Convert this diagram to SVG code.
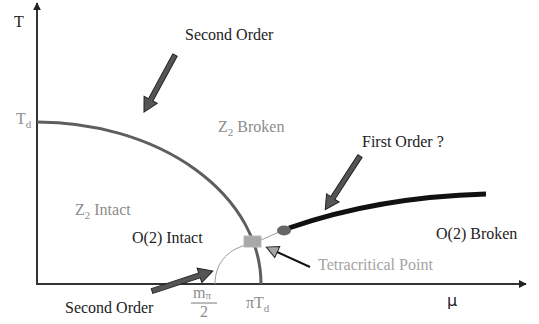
<svg xmlns="http://www.w3.org/2000/svg" width="539" height="324" viewBox="0 0 539 324">
  <defs>
    <marker id="axhead" viewBox="0 0 10 10" refX="9" refY="5" markerWidth="4" markerHeight="4" orient="auto" markerUnits="strokeWidth">
      <path d="M0,0 L10,5 L0,10 Z" fill="#222"/>
    </marker>
  </defs>
  <style>
    text { font-family: 'Liberation Serif', 'DejaVu Serif', serif; font-size: 16px; fill: #222; }
    .grey { fill: #8c8c8c; }
    .light { fill: #a3a3a3; }
    .mu { font-family: 'DejaVu Sans', sans-serif; }
    .axis { stroke: #333; stroke-width: 2; fill: none; }
    .block { fill: #555; stroke: #222; stroke-width: 1; stroke-linejoin: miter; }
    .sub { font-size: 11px; }
  </style>
  <rect width="539" height="324" fill="#fff"/>

  <g id="axes">
    <line class="axis" x1="37" y1="284" x2="37" y2="3" marker-end="url(#axhead)"/>
    <line class="axis" x1="36" y1="284" x2="526" y2="284" marker-end="url(#axhead)"/>
    <text x="14" y="27" font-size="17">T</text>
    <text class="mu" x="447" y="306">μ</text>
    <text class="grey" x="16" y="124">T<tspan class="sub" dy="4">d</tspan></text>
    <text class="grey" x="246" y="308">πT<tspan class="sub" dy="4">d</tspan></text>
    <g id="fraction">
      <text class="grey" x="193" y="298">m<tspan class="sub" dy="1">π</tspan></text>
      <line x1="191" y1="303" x2="217" y2="303" stroke="#777" stroke-width="1"/>
      <text class="grey" x="200" y="317">2</text>
    </g>
  </g>

  <g id="connectors">
    <path d="M37,122 A224,162 0 0 1 261,284" fill="none" stroke="#5e5e5e" stroke-width="3"/>
    <path d="M215,284 C215,264 227,250 246,245" fill="none" stroke="#9a9a9a" stroke-width="1"/>
    <line x1="261" y1="240" x2="279" y2="232" stroke="#9a9a9a" stroke-width="1"/>
    <path d="M289,228 Q378,197 486,194" fill="none" stroke="#111" stroke-width="5"/>
    <polygon class="block" transform="translate(175,55) rotate(118.5)" points="0,-2.5 51,-2.5 51,-7.5 65,0 51,7.5 51,2.5 0,2.5"/>
    <polygon class="block" transform="translate(360,156) rotate(122.9)" points="0,-2.5 50,-2.5 50,-7.5 64,0 50,7.5 50,2.5 0,2.5"/>
    <polygon class="block" transform="translate(152,291) rotate(-18.2)" points="0,-2.5 50,-2.5 50,-7.5 64,0 50,7.5 50,2.5 0,2.5"/>
    <g transform="translate(310,267) rotate(-155.5)">
      <line x1="0" y1="0" x2="38" y2="0" stroke="#111" stroke-width="2"/>
      <polygon points="36,-6 48,0 36,6" fill="#a8a8a8" stroke="#222" stroke-width="1"/>
    </g>
  </g>

  <g id="tetracritical-point">
    <rect x="244" y="236" width="17" height="11" fill="#a8a8a8" stroke="#b8b8b8" stroke-width="1"/>
  </g>
  <g id="endpoint">
    <ellipse cx="284" cy="230.5" rx="7" ry="5" fill="#666"/>
  </g>

  <g id="label-second-order-top"><text x="185" y="40">Second Order</text></g>
  <g id="label-z2-broken"><text class="grey" x="218" y="132">Z<tspan class="sub" dy="4">2</tspan><tspan dy="-4"> Broken</tspan></text></g>
  <g id="label-first-order"><text x="362" y="147">First Order ?</text></g>
  <g id="label-z2-intact"><text class="grey" x="75" y="215">Z<tspan class="sub" dy="4">2</tspan><tspan dy="-4"> Intact</tspan></text></g>
  <g id="label-o2-intact"><text x="132" y="243" font-size="17">O(2) Intact</text></g>
  <g id="label-o2-broken"><text x="436" y="239" font-size="17">O(2) Broken</text></g>
  <g id="label-tetracritical"><text class="light" x="318" y="270">Tetracritical Point</text></g>
  <g id="label-second-order-bottom"><text x="65" y="313">Second Order</text></g>
</svg>
